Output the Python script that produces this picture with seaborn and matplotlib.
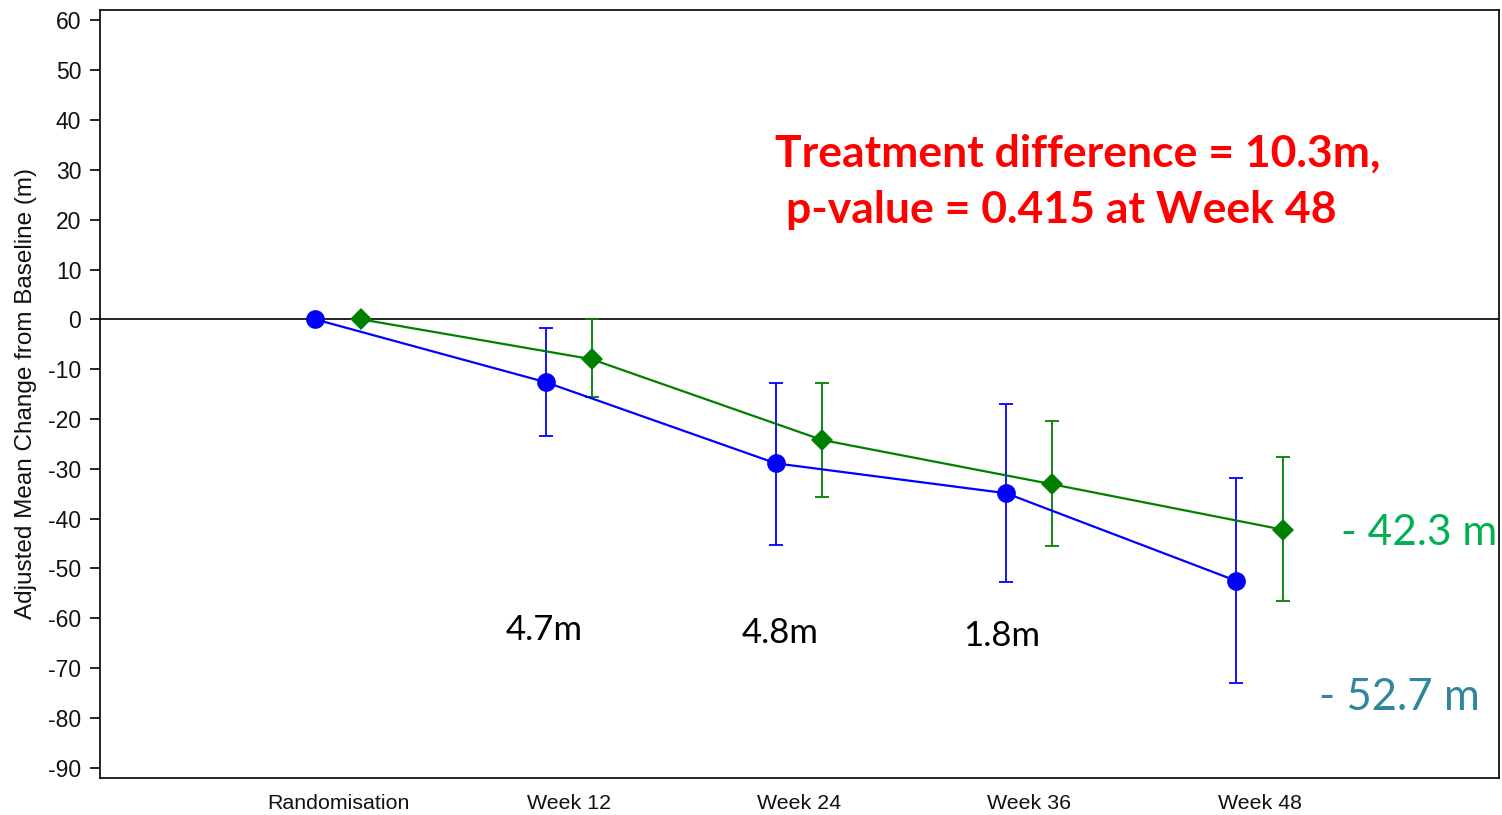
import matplotlib
matplotlib.use("Agg")
import matplotlib.pyplot as plt
import seaborn as sns
import numpy as np
import pandas as pd

# ---- data ----
visits = ["Randomisation", "Week 12", "Week 24", "Week 36", "Week 48"]
blue_mean = [0.0, -12.6, -28.9, -34.9, -52.5]
blue_low = [np.nan, -23.4, -45.3, -52.7, -72.9]
blue_high = [np.nan, -1.8, -12.8, -17.0, -31.9]
green_mean = [0.0, -8.0, -24.2, -33.1, -42.2]
green_low = [np.nan, -15.6, -35.7, -45.5, -56.5]
green_high = [np.nan, 0.0, -12.8, -20.4, -27.7]
groups = ["A", "B"]
diff_labels = ["4.7m", "4.8m", "1.8m"]
yticks = list(range(-90, 61, 10))

sns.set_style("white")
plt.rcParams["font.family"] = ["Liberation Sans", "DejaVu Sans"]

fig = plt.figure(figsize=(15.02, 8.15), dpi=100)
ax = fig.add_axes([100 / 1502, 37.3 / 815, 1399 / 1502, 767.7 / 815])

dodge = 0.1
idx = np.arange(len(visits))
df = pd.concat([
    pd.DataFrame({"x": idx - dodge, "mean": blue_mean, "lo": blue_low, "hi": blue_high, "group": groups[0]}),
    pd.DataFrame({"x": idx + dodge, "mean": green_mean, "lo": green_low, "hi": green_high, "group": groups[1]}),
], ignore_index=True)

palette = {"A": "#0000ff", "B": "#008000"}

ax.axhline(0, color="black", lw=1.2, zorder=1)

for g, col in palette.items():
    sub = df[df.group == g]
    yerr = np.vstack([sub["mean"] - sub["lo"], sub["hi"] - sub["mean"]])
    ax.errorbar(sub["x"], sub["mean"], yerr=yerr, fmt="none", ecolor=col,
                elinewidth=1.3, capsize=5, capthick=1.3, zorder=2)

sns.lineplot(data=df, x="x", y="mean", hue="group", style="group",
             markers={"A": "o", "B": "D"}, dashes=False, palette=palette,
             markersize=13.5, linewidth=1.6, markeredgewidth=0,
             legend=False, ax=ax, zorder=3, sort=False, estimator=None)
for line in ax.get_lines():
    if line.get_marker() == "D":
        line.set_markersize(11)

ax.set_xlim(-1.035, 5.04)
ax.set_ylim(-92.0, 62.1)
ax.set_yticks(yticks)
ax.set_yticklabels([str(v) for v in yticks])
ax.set_xticks(idx)
ax.set_xticklabels(visits)
ax.tick_params(axis="x", length=0, pad=12, labelsize=15.4, labelcolor="#111111")
ax.tick_params(axis="y", length=7, width=1.2, pad=6.5, labelsize=16.5, direction="out",
               left=True, color="black", labelcolor="#111111")
ax.set_xlabel("")
ax.set_ylabel("Adjusted Mean Change from Baseline (m)", fontsize=17.5, color="#111111")
ax.yaxis.set_label_coords(-0.045, 0.5)
for s in ax.spines.values():
    s.set_visible(True)
    s.set_color("black")
    s.set_linewidth(1.2)

# annotations
lato = ["Lato", "DejaVu Sans"]
ax.text(1.896, 30.6, "Treatment difference = 10.3m,", color="#ff0000",
        fontsize=32, fontweight="bold", family=lato, ha="left", va="baseline")
ax.text(1.943, 19.4, "p-value = 0.415 at Week 48", color="#ff0000",
        fontsize=32, fontweight="bold", family=lato, ha="left", va="baseline")
for lbl, (xx, yy) in zip(diff_labels, [(0.726, -64.4), (1.752, -65.0), (2.713, -65.6)]):
    ax.text(xx, yy, lbl, color="black", fontsize=25, family=lato,
            ha="left", va="baseline")
ax.text(4.355, -45.3, "- 42.3 m", color="#00b050", fontsize=30.5,
        family=lato, ha="left", va="baseline")
ax.text(4.26, -78.4, "- 52.7 m", color="#31859c", fontsize=31.5,
        family=lato, ha="left", va="baseline")

fig.savefig("out.png", dpi=100, facecolor="white")
